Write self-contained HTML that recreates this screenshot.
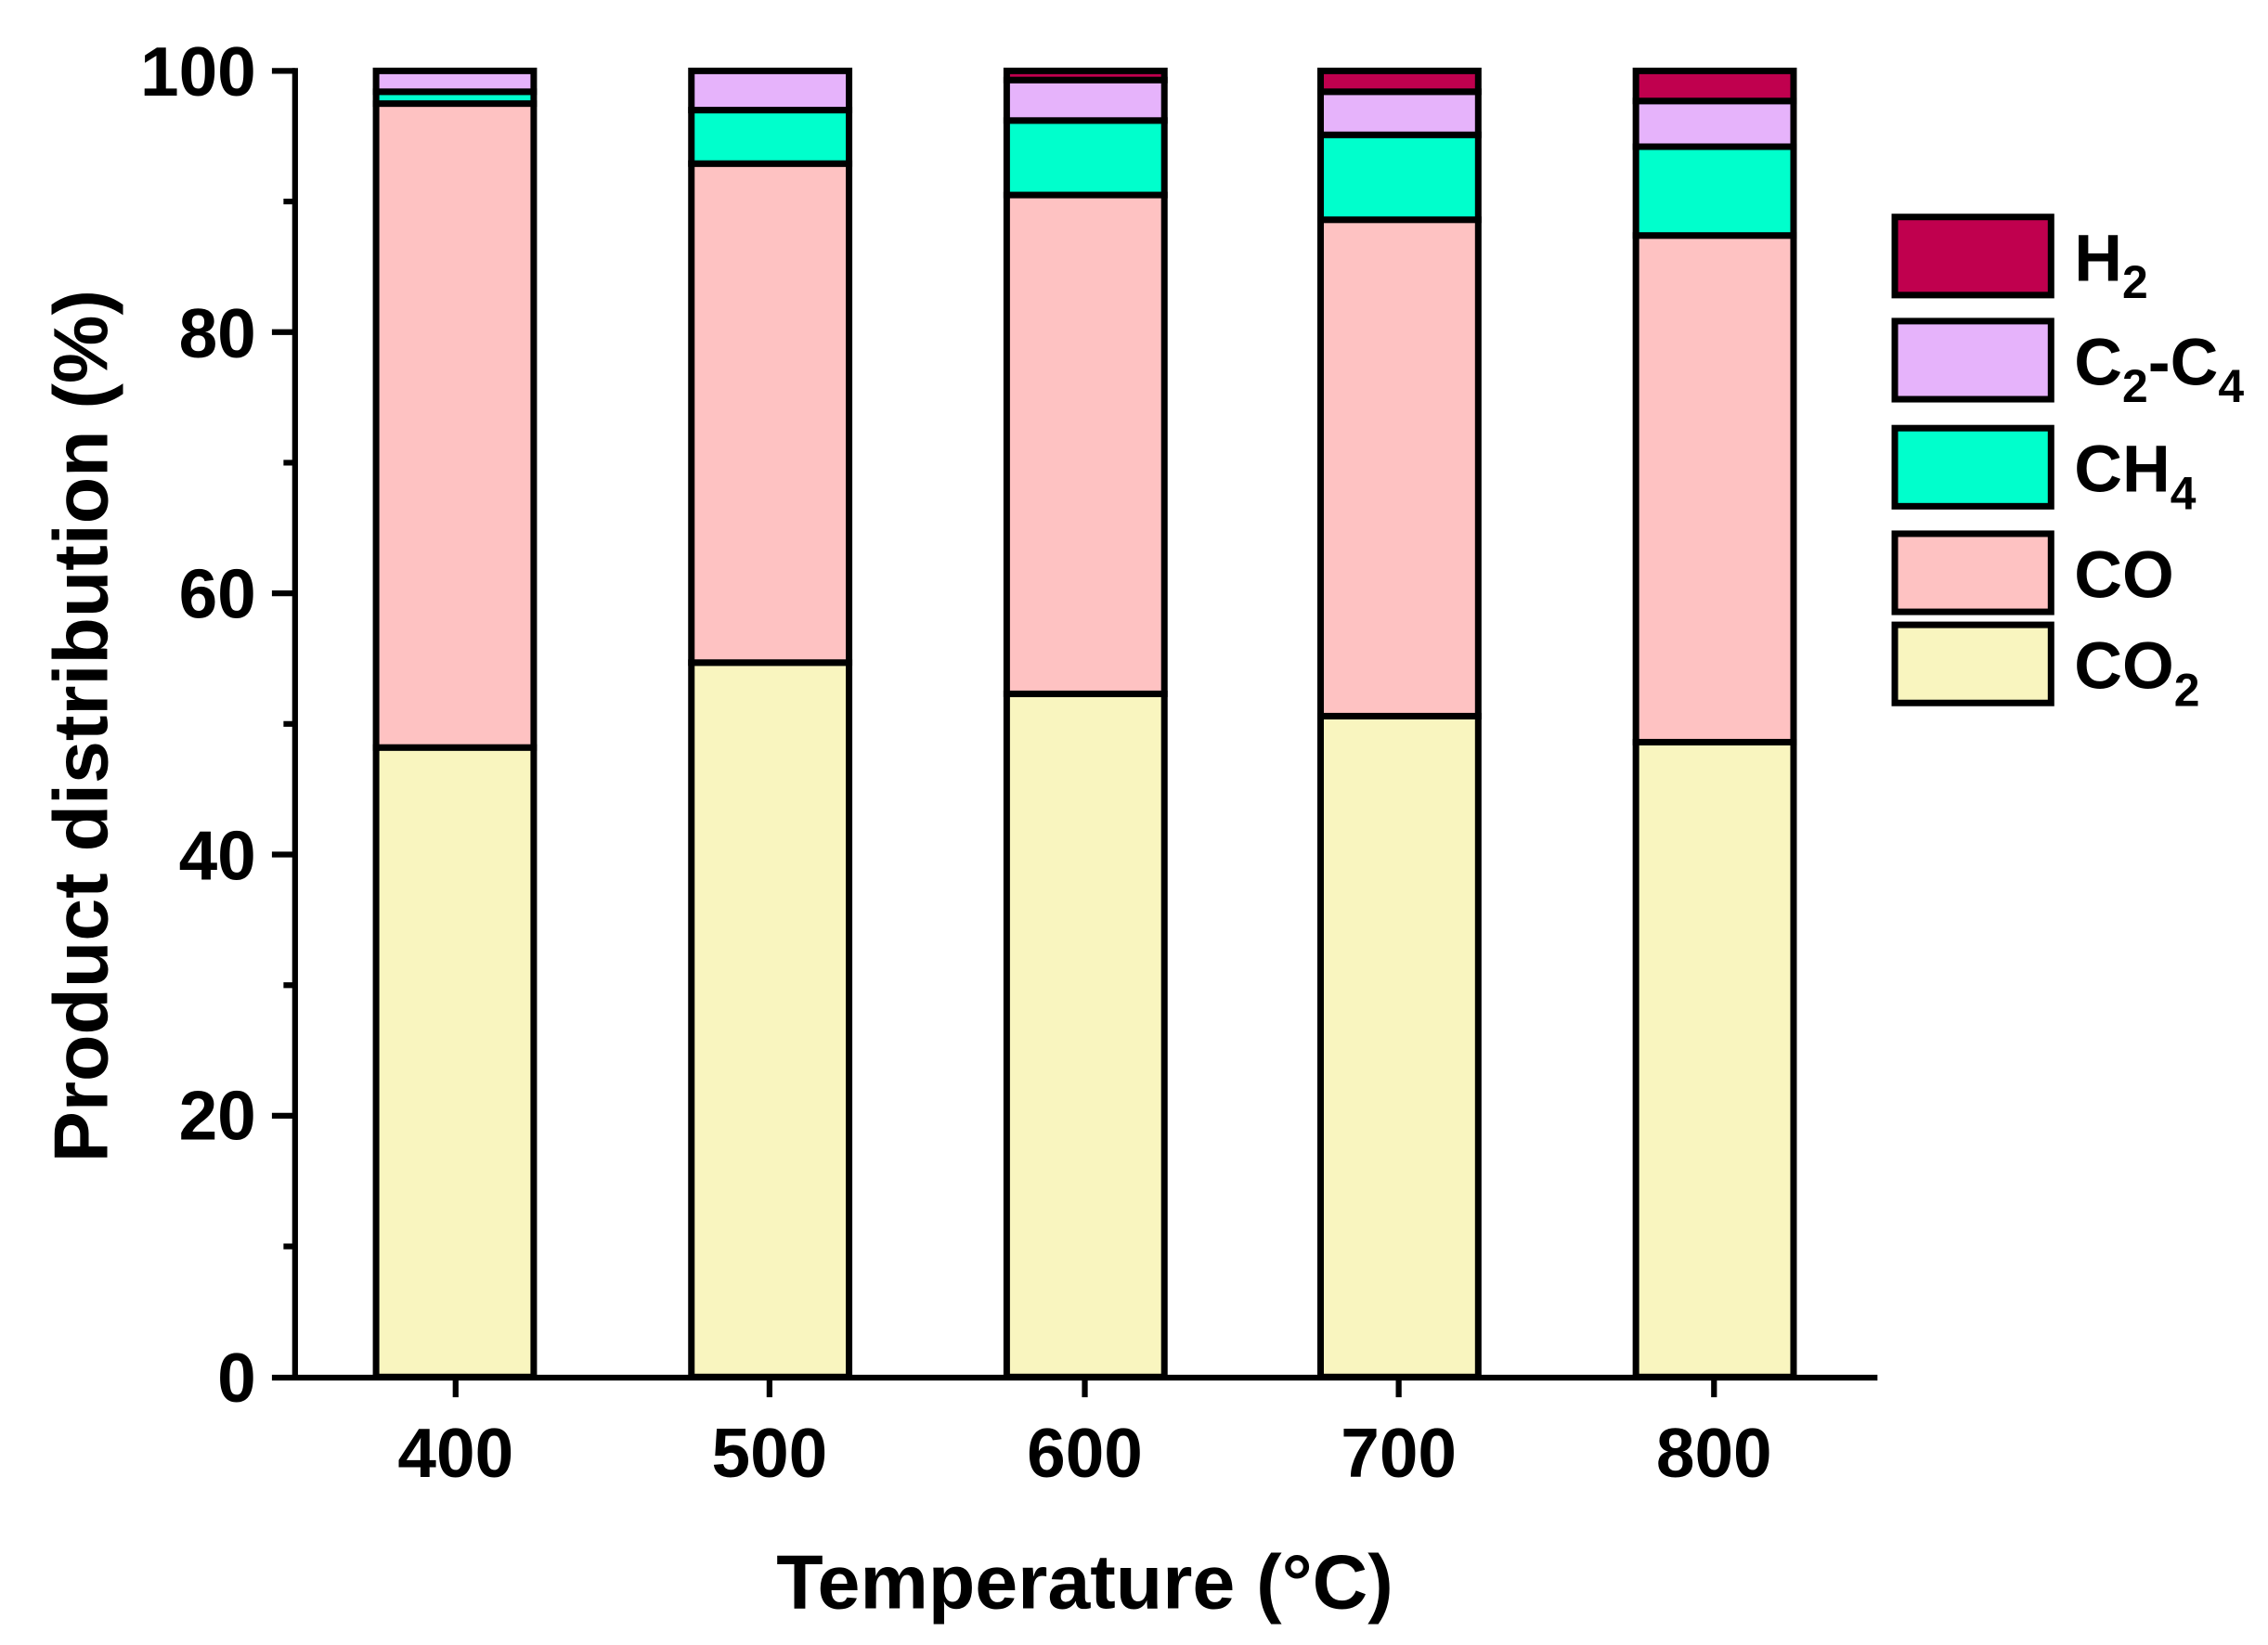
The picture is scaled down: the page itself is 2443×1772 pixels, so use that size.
<!DOCTYPE html>
<html><head><meta charset="utf-8"><style>
html,body{margin:0;padding:0;background:#fff;}
svg{display:block;}
text{font-family:"Liberation Sans",Arial,sans-serif;font-weight:bold;fill:#000;}
</style></head><body>
<svg width="2443" height="1772" viewBox="0 0 1568 1137.3" xmlns="http://www.w3.org/2000/svg">
<g stroke="#000" stroke-width="4.5">
<rect x="260" y="516.8" width="109" height="435.2" fill="#f9f5bf"/>
<rect x="260" y="71.6" width="109" height="445.2" fill="#fec2c2"/>
<rect x="260" y="63.4" width="109" height="8.2" fill="#00ffcc"/>
<rect x="260" y="49" width="109" height="14.4" fill="#e6b3fb"/>
<rect x="478" y="458.1" width="109" height="493.9" fill="#f9f5bf"/>
<rect x="478" y="113.1" width="109" height="345" fill="#fec2c2"/>
<rect x="478" y="76.1" width="109" height="37" fill="#00ffcc"/>
<rect x="478" y="49" width="109" height="27.1" fill="#e6b3fb"/>
<rect x="696" y="479.7" width="109" height="472.3" fill="#f9f5bf"/>
<rect x="696" y="134.8" width="109" height="344.9" fill="#fec2c2"/>
<rect x="696" y="83.3" width="109" height="51.5" fill="#00ffcc"/>
<rect x="696" y="55.3" width="109" height="28" fill="#e6b3fb"/>
<rect x="696" y="49" width="109" height="6.3" fill="#c0004e"/>
<rect x="913" y="495.1" width="109" height="456.9" fill="#f9f5bf"/>
<rect x="913" y="151.9" width="109" height="343.2" fill="#fec2c2"/>
<rect x="913" y="93.2" width="109" height="58.7" fill="#00ffcc"/>
<rect x="913" y="63.4" width="109" height="29.8" fill="#e6b3fb"/>
<rect x="913" y="49" width="109" height="14.4" fill="#c0004e"/>
<rect x="1131" y="513.1" width="109" height="438.9" fill="#f9f5bf"/>
<rect x="1131" y="162.8" width="109" height="350.3" fill="#fec2c2"/>
<rect x="1131" y="101.4" width="109" height="61.4" fill="#00ffcc"/>
<rect x="1131" y="69.8" width="109" height="31.6" fill="#e6b3fb"/>
<rect x="1131" y="49" width="109" height="20.8" fill="#c0004e"/>
<line x1="204" y1="47" x2="204" y2="954" stroke-width="4"/>
<line x1="188" y1="952.5" x2="1298" y2="952.5" stroke-width="4"/>
<path d="M188 49H204M188 229.6H204M188 410.2H204M188 590.8H204M188 771.4H204" stroke-width="4" fill="none"/>
<path d="M196 139.3H204M196 319.9H204M196 500.5H204M196 681.1H204M196 861.7H204" stroke-width="4" fill="none"/>
<path d="M315 952V966M532 952V966M750 952V966M967 952V966M1185 952V966" stroke-width="4" fill="none"/>
<rect x="1310" y="150" width="108" height="54" fill="#c0004e"/>
<rect x="1310" y="222" width="108" height="54" fill="#e6b3fb"/>
<rect x="1310" y="296" width="108" height="54" fill="#00ffcc"/>
<rect x="1310" y="369" width="108" height="54" fill="#fec2c2"/>
<rect x="1310" y="432" width="108" height="54" fill="#f9f5bf"/>
</g>
<g font-size="48" text-anchor="end">
<text x="177" y="66">100</text>
<text x="177" y="247">80</text>
<text x="177" y="427">60</text>
<text x="177" y="608">40</text>
<text x="177" y="788">20</text>
<text x="177" y="969">0</text>
</g>
<g font-size="48" text-anchor="middle">
<text x="315" y="1021">400</text>
<text x="532" y="1021">500</text>
<text x="750" y="1021">600</text>
<text x="967" y="1021">700</text>
<text x="1185" y="1021">800</text>
</g>
<text x="750" y="1112" font-size="53" text-anchor="middle">Temperature (°C)</text>
<text transform="translate(74,502) rotate(-90)" font-size="53" text-anchor="middle">Product distribution (%)</text>
<g font-size="46">
<text x="1434" y="194">H<tspan font-size="32" dy="12">2</tspan></text>
<text x="1434" y="266">C<tspan font-size="32" dy="12">2</tspan><tspan dy="-12">-C</tspan><tspan font-size="32" dy="12">4</tspan></text>
<text x="1434" y="340">CH<tspan font-size="32" dy="12">4</tspan></text>
<text x="1434" y="413">CO</text>
<text x="1434" y="476">CO<tspan font-size="32" dy="12">2</tspan></text>
</g>
</svg>
</body></html>
